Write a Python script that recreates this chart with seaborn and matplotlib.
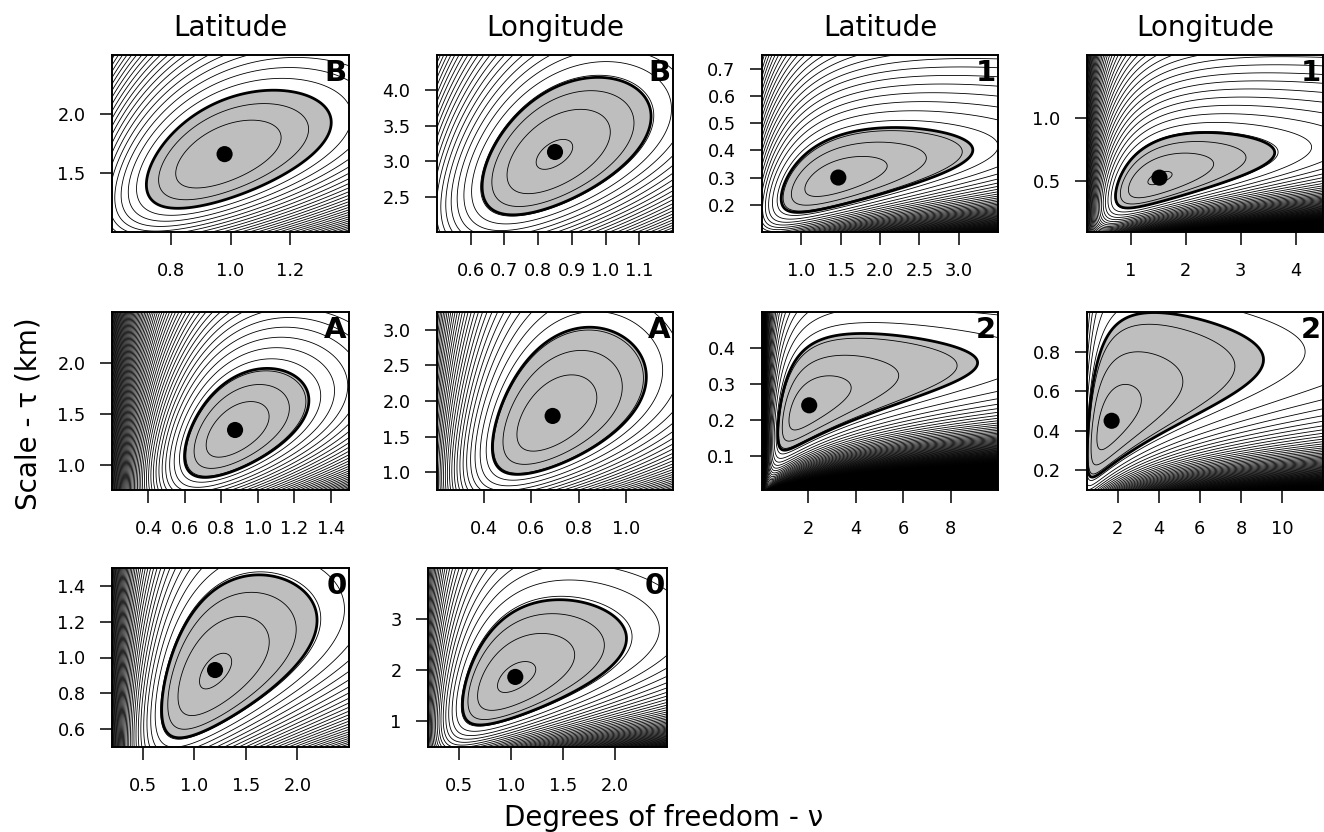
import math
import numpy as np
import pandas as pd
import matplotlib
matplotlib.use("Agg")
import matplotlib.pyplot as plt
import seaborn as sns

sns.set_style("white")
plt.rcParams["font.family"] = ["DejaVu Sans"]

# ---------------- data ----------------
column_titles = ["Latitude", "Longitude", "Latitude", "Longitude"]
panel_labels = ["B", "B", "1", "1", "A", "A", "2", "2", "0", "0"]
# maximum-likelihood estimates (black dots): degrees of freedom nu, scale tau (km)
nu_hat = [0.98, 0.85, 1.47, 1.52, 0.875, 0.69, 2.04, 1.70, 1.20, 1.04]
tau_hat = [1.66, 3.13, 0.30, 0.53, 1.34, 1.79, 0.24, 0.45, 0.93, 1.87]
# right-hand (largest nu) edge of the shaded 95% region
nu_upper95 = [1.34, 1.135, 3.18, 3.62, 1.28, 1.087, 9.14, 9.1, 2.19, 2.11]
# offset (in log-likelihood units) of the first thin contour below the maximum
contour_phase = [0.0, 0.14, 0.7, 0.1, 0.8, 0.85, 0.7, 0.55, 0.15, 0.2]
x_ranges = [(0.6, 1.4), (0.5, 1.2), (0.5, 3.5), (0.2, 4.5), (0.2, 1.5),
            (0.2, 1.2), (0.05, 10.0), (0.5, 12.0), (0.2, 2.5), (0.2, 2.5)]
y_ranges = [(1.0, 2.5), (2.0, 4.5), (0.1, 0.75), (0.1, 1.5), (0.75, 2.5),
            (0.75, 3.25), (0.004, 0.5), (0.1, 1.0), (0.5, 1.5), (0.5, 4.0)]
x_tick_labels = [["0.8", "1.0", "1.2"],
                 ["0.6", "0.7", "0.8", "0.9", "1.0", "1.1"],
                 ["1.0", "1.5", "2.0", "2.5", "3.0"],
                 ["1", "2", "3", "4"],
                 ["0.4", "0.6", "0.8", "1.0", "1.2", "1.4"],
                 ["0.4", "0.6", "0.8", "1.0"],
                 ["2", "4", "6", "8"],
                 ["2", "4", "6", "8", "10"],
                 ["0.5", "1.0", "1.5", "2.0"],
                 ["0.5", "1.0", "1.5", "2.0"]]
y_tick_labels = [["1.5", "2.0"],
                 ["2.5", "3.0", "3.5", "4.0"],
                 ["0.2", "0.3", "0.4", "0.5", "0.6", "0.7"],
                 ["0.5", "1.0"],
                 ["1.0", "1.5", "2.0"],
                 ["1.0", "1.5", "2.0", "2.5", "3.0"],
                 ["0.1", "0.2", "0.3", "0.4"],
                 ["0.2", "0.4", "0.6", "0.8"],
                 ["0.6", "0.8", "1.0", "1.2", "1.4"],
                 ["1", "2", "3"]]
x_label = "Degrees of freedom - \u03bd"
y_label = "Scale - \u03c4 (km)"
CHI2_95_HALF = 2.996   # 95% region for 2 parameters, in log-likelihood units

# ---------------- Student-t log-likelihood surface ----------------
_lgamma = np.vectorize(math.lgamma, otypes=[float])


def log_norm_const(nu):
    nu = np.asarray(nu, float)
    return _lgamma((nu + 1) / 2) - _lgamma(nu / 2) - 0.5 * np.log(nu * np.pi)


S_GRID = np.linspace(0.0, 60.0, 4001)
LOGQ = np.linspace(np.log(1e-8), np.log(1e4), 1500)


def make_loglik(nu0, tau0):
    """Expected per-observation log-likelihood of a t(nu, tau) model
    for data following t(nu0, tau0)."""
    x = tau0 * np.sinh(S_GRID)
    logw = -(nu0 + 1) / 2 * np.log1p((x / tau0) ** 2 / nu0) + np.log(np.cosh(S_GRID))
    w = np.exp(logw - logw.max())
    w /= w.sum()
    x2 = x ** 2
    g = np.array([np.dot(w, np.log1p(x2 / np.exp(lq))) for lq in LOGQ])

    def loglik(nu, tau):
        lq = np.log(nu * tau ** 2)
        return log_norm_const(nu) - np.log(tau) - (nu + 1) / 2 * np.interp(lq, LOGQ, g)
    return loglik


# ---------------- layout ----------------
W, H = 1324, 832
fig = plt.figure(figsize=(W / 100, H / 100), dpi=100)
boxes = [(112, 55, 237, 177), (437, 55, 236, 177), (762, 55, 236, 177), (1087, 55, 236, 177),
         (112, 312, 237, 178), (437, 312, 236, 178), (762, 312, 236, 178), (1087, 312, 236, 178),
         (112, 568, 237, 179), (428, 568, 239, 179)]

GRAY = "#bebebe"
CAP = 1500

for i in range(10):
    l, t, w, h = boxes[i]
    ax = fig.add_axes([l / W, 1 - (t + h) / H, w / W, h / H])
    x0, x1 = x_ranges[i]
    y0, y1 = y_ranges[i]
    loglik = make_loglik(nu_hat[i], tau_hat[i])
    lmax = float(loglik(np.array([nu_hat[i]]), np.array([tau_hat[i]]))[0])
    tau_fine = np.linspace(y0, y1 * 1.5, 3000)
    dmin = np.min(lmax - loglik(np.full_like(tau_fine, nu_upper95[i]), tau_fine))
    n_eff = CHI2_95_HALF / dmin

    nu_g = np.linspace(x0, x1, 380)
    tau_g = np.linspace(y0, y1, 320)
    NU, TAU = np.meshgrid(nu_g, tau_g)
    D = n_eff * (lmax - loglik(NU, TAU))
    D = np.maximum(D, 0)

    ax.contourf(NU, TAU, D, levels=[-1, CHI2_95_HALF], colors=[GRAY])
    lev = contour_phase[i] + np.arange(0, CAP)
    lev = lev[(lev > 0.03) & (lev < D.max())]
    ax.contour(NU, TAU, D, levels=lev, colors="black", linewidths=0.6)
    if D.max() > CAP:
        ax.contourf(NU, TAU, D, levels=[CAP, D.max() + 1], colors=["black"])
    ax.contour(NU, TAU, D, levels=[CHI2_95_HALF], colors="black", linewidths=2.0)

    dot = pd.DataFrame({"nu": [nu_hat[i]], "tau": [tau_hat[i]]})
    sns.scatterplot(data=dot, x="nu", y="tau", ax=ax, color="black", s=135,
                    edgecolor="none", zorder=6, legend=False)

    ax.set_xlim(x0, x1)
    ax.set_ylim(y0, y1)
    ax.set_xticks([float(s) for s in x_tick_labels[i]])
    ax.set_xticklabels(x_tick_labels[i])
    ax.set_yticks([float(s) for s in y_tick_labels[i]])
    ax.set_yticklabels(y_tick_labels[i])
    ax.set_xlabel("")
    ax.set_ylabel("")
    ax.tick_params(axis="both", direction="out", length=9, width=1.1, color="black",
                   labelsize=12.8, labelcolor="black", bottom=True, left=True)
    ax.tick_params(axis="x", pad=12.5)
    ax.tick_params(axis="y", pad=10)
    for sp in ax.spines.values():
        sp.set_visible(True)
        sp.set_color("black")
        sp.set_linewidth(1.4)
    ax.text(0.99, 0.975, panel_labels[i], transform=ax.transAxes, ha="right", va="top",
            fontsize=21, fontweight="bold", color="black", zorder=7)

    if i < 4:
        fig.text((l + w / 2) / W, 1 - 36 / H, column_titles[i], ha="center",
                 va="baseline", fontsize=20, color="black")

fig.text(29 / W, 1 - 414 / H, y_label, rotation=90, ha="center", va="center",
         fontsize=20, color="black")
fig.text(664 / W, 1 - 826 / H, x_label, ha="center", va="baseline",
         fontsize=20, color="black")

fig.savefig("out.png", dpi=100)
